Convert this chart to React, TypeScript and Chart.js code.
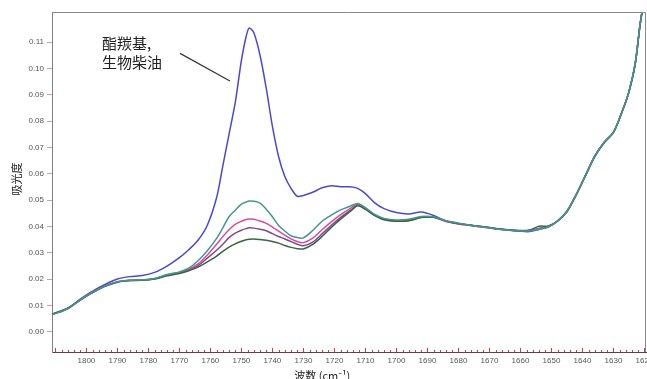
import React, { useEffect, useRef } from "react";
import { Chart, registerables } from "chart.js";
Chart.register(...registerables);

// Wavenumbers (cm^-1) shared by all spectra
const WAVENUMBERS = [1811, 1806, 1802, 1798, 1794, 1790, 1786, 1782, 1778, 1774, 1770, 1767, 1764, 1761, 1758, 1756, 1754, 1752, 1750, 1748.5, 1747.5, 1746, 1744, 1742, 1740, 1738, 1736, 1734, 1732, 1730, 1727, 1724, 1721, 1718, 1715, 1712.5, 1710, 1707, 1704, 1700, 1696, 1692, 1688, 1684, 1680, 1676, 1672, 1668, 1664, 1660, 1657, 1654, 1651, 1648, 1645, 1642, 1639, 1636, 1633, 1630, 1627, 1625, 1623, 1621.5, 1620.5];

// Absorbance series
const BLUE = [0.0066, 0.009, 0.0125, 0.0155, 0.018, 0.0201, 0.021, 0.0214, 0.0226, 0.025, 0.0282, 0.0312, 0.0348, 0.0405, 0.051, 0.063, 0.075, 0.087, 0.103, 0.112, 0.1153, 0.1135, 0.105, 0.0925, 0.078, 0.0665, 0.059, 0.0545, 0.0515, 0.0518, 0.053, 0.0547, 0.0555, 0.0551, 0.0551, 0.0545, 0.0525, 0.049, 0.0468, 0.0453, 0.0448, 0.0455, 0.0442, 0.0421, 0.041, 0.0405, 0.0399, 0.0393, 0.0387, 0.0382, 0.0381, 0.0389, 0.0398, 0.042, 0.0456, 0.052, 0.0593, 0.0665, 0.0718, 0.0757, 0.0842, 0.091, 0.1015, 0.1157, 0.1235];
const TEAL = [0.0066, 0.0088, 0.0122, 0.015, 0.0174, 0.019, 0.0196, 0.0198, 0.0203, 0.0218, 0.0228, 0.0242, 0.027, 0.0308, 0.0355, 0.0395, 0.0437, 0.0462, 0.0485, 0.0493, 0.0497, 0.0496, 0.0489, 0.0466, 0.0437, 0.0404, 0.0383, 0.0365, 0.0358, 0.0357, 0.0385, 0.042, 0.0443, 0.0463, 0.0477, 0.0487, 0.0472, 0.0446, 0.0431, 0.0425, 0.0428, 0.0438, 0.0437, 0.0422, 0.0413, 0.0405, 0.0398, 0.0392, 0.0387, 0.0384, 0.0384, 0.039, 0.0399, 0.0422, 0.0458, 0.0522, 0.0595, 0.0668, 0.072, 0.0758, 0.0843, 0.0912, 0.1018, 0.116, 0.1238];
const PINK = [0.0067, 0.0089, 0.0121, 0.0151, 0.0175, 0.0191, 0.0196, 0.0198, 0.0202, 0.0216, 0.0226, 0.0238, 0.0258, 0.0292, 0.0333, 0.0362, 0.0388, 0.0408, 0.042, 0.0427, 0.0429, 0.0428, 0.0421, 0.0412, 0.0398, 0.0383, 0.0367, 0.0353, 0.0343, 0.0339, 0.0356, 0.0388, 0.0418, 0.0445, 0.0468, 0.0485, 0.0469, 0.0444, 0.0429, 0.0421, 0.0424, 0.0436, 0.0435, 0.0419, 0.0411, 0.0404, 0.0397, 0.0391, 0.0386, 0.0384, 0.0385, 0.0392, 0.04, 0.0421, 0.0457, 0.0521, 0.0594, 0.0667, 0.0719, 0.0757, 0.0842, 0.0911, 0.1016, 0.1158, 0.1236];
const PURPLE = [0.0067, 0.0089, 0.0122, 0.015, 0.0175, 0.019, 0.0195, 0.0197, 0.0202, 0.0215, 0.0225, 0.0236, 0.0252, 0.028, 0.031, 0.0333, 0.0358, 0.0375, 0.0386, 0.0392, 0.0395, 0.0394, 0.039, 0.0384, 0.0373, 0.0362, 0.0353, 0.0343, 0.0333, 0.0327, 0.0341, 0.0372, 0.0405, 0.0435, 0.046, 0.0481, 0.0467, 0.0443, 0.0428, 0.0421, 0.0423, 0.0435, 0.0436, 0.042, 0.0411, 0.0404, 0.0398, 0.0392, 0.0387, 0.0384, 0.0385, 0.0393, 0.04, 0.0421, 0.0457, 0.0521, 0.0594, 0.0667, 0.0719, 0.0757, 0.0842, 0.0911, 0.1016, 0.1158, 0.1236];
const DARK_GREEN = [0.0068, 0.009, 0.0121, 0.0149, 0.0173, 0.0189, 0.0195, 0.0196, 0.0201, 0.0213, 0.0222, 0.0232, 0.0246, 0.0266, 0.0288, 0.0306, 0.0322, 0.0334, 0.0344, 0.035, 0.0352, 0.0353, 0.0351, 0.0348, 0.0343, 0.0337, 0.0328, 0.0321, 0.0316, 0.0315, 0.0332, 0.0362, 0.0397, 0.0428, 0.0456, 0.0479, 0.0465, 0.0442, 0.0426, 0.042, 0.0422, 0.0434, 0.0435, 0.0421, 0.0412, 0.0405, 0.0399, 0.0393, 0.0388, 0.0385, 0.0387, 0.0401, 0.0402, 0.0422, 0.0458, 0.0522, 0.0595, 0.0668, 0.072, 0.0758, 0.0843, 0.0912, 0.1017, 0.1159, 0.1237];

// Axis ticks
const X_LABEL_TICKS = [1800, 1790, 1780, 1770, 1760, 1750, 1740, 1730, 1720, 1710, 1700, 1690, 1680, 1670, 1660, 1650, 1640, 1630, 1620];
const Y_TICKS = [0, 0.01, 0.02, 0.03, 0.04, 0.05, 0.06, 0.07, 0.08, 0.09, 0.1, 0.11];
const X_RANGE = [1619.5, 1811.1];
const Y_RANGE = [-0.0076, 0.1214];

// Texts
const Y_TITLE = "吸光度";
const X_TITLE = "波数 (cm⁻¹)";
const ANNOTATION_LINES = ["酯羰基,", "生物柴油"];
const ANNOTATION_TEXT_POS = [1795.0, 0.1097, 0.1022]; // wavenumber, line1 value, line2 value
const ANNOTATION_LEADER = [[1769.8, 0.1057], [1753.7, 0.0952]];

const CJK = '"Noto Sans CJK SC", "Noto Sans", sans-serif';
const SANS = '"Liberation Sans", Arial, sans-serif';

const decorPlugin = {
  id: "decor",
  afterDraw(chart: any) {
    const { ctx, chartArea: a, scales } = chart;
    const xs = scales.x;
    const ys = scales.y;
    ctx.save();
    // frame top & right
    ctx.strokeStyle = "#8a8a8a";
    ctx.lineWidth = 1;
    ctx.beginPath();
    ctx.moveTo(a.left, a.top + 0.5);
    ctx.lineTo(a.right - 0.5, a.top + 0.5);
    ctx.lineTo(a.right - 0.5, a.bottom);
    ctx.stroke();
    // x ticks (inside, pointing up)
    ctx.strokeStyle = "#d23c3c";
    ctx.lineWidth = 1;
    for (let v = 1810; v >= 1620; v -= 2) {
      const px = Math.round(xs.getPixelForValue(v)) + 0.5;
      if (px < a.left || px > a.right) continue;
      const len = v % 10 === 0 ? 4 : 2;
      ctx.beginPath();
      ctx.moveTo(px, a.bottom);
      ctx.lineTo(px, a.bottom - len);
      ctx.stroke();
    }
    // annotation
    ctx.fillStyle = "#222";
    ctx.font = `15px ${CJK}`;
    ctx.textAlign = "left";
    ctx.textBaseline = "middle";
    const tx = xs.getPixelForValue(ANNOTATION_TEXT_POS[0]);
    ctx.fillText(ANNOTATION_LINES[0], tx, ys.getPixelForValue(ANNOTATION_TEXT_POS[1]));
    ctx.fillText(ANNOTATION_LINES[1], tx, ys.getPixelForValue(ANNOTATION_TEXT_POS[2]));
    ctx.strokeStyle = "#3a3a3a";
    ctx.lineWidth = 1.3;
    ctx.beginPath();
    ctx.moveTo(xs.getPixelForValue(ANNOTATION_LEADER[0][0]), ys.getPixelForValue(ANNOTATION_LEADER[0][1]));
    ctx.lineTo(xs.getPixelForValue(ANNOTATION_LEADER[1][0]), ys.getPixelForValue(ANNOTATION_LEADER[1][1]));
    ctx.stroke();
    // axis titles
    ctx.fillStyle = "#222";
    ctx.font = `11px ${CJK}`;
    ctx.textAlign = "center";
    ctx.textBaseline = "top";
    ctx.fillText(X_TITLE, a.left + (a.right - a.left) * 0.455, 370);
    ctx.save();
    ctx.translate(17, (a.top + a.bottom) / 2 - 3);
    ctx.rotate(-Math.PI / 2);
    ctx.textBaseline = "middle";
    ctx.fillText(Y_TITLE, 0, 0);
    ctx.restore();
    ctx.restore();
  },
};

function makeSeries(values: number[]) {
  return WAVENUMBERS.map((w, i) => ({ x: w, y: values[i] }));
}

export default function App() {
  const ref = useRef<HTMLCanvasElement | null>(null);
  useEffect(() => {
    if (!ref.current) return;
    const ds = (label: string, values: number[], color: string) => ({
      label,
      data: makeSeries(values),
      borderColor: color,
      backgroundColor: color,
      borderWidth: 1.5,
      pointRadius: 0,
      tension: 0.3,
      fill: false,
    });
    const chart = new Chart(ref.current, {
      type: "line",
      data: {
        datasets: [
          ds("teal", TEAL, "#3f9a8c"),
          ds("dark green", DARK_GREEN, "#3b6443"),
          ds("pink", PINK, "#d84c9c"),
          ds("purple", PURPLE, "#84468f"),
          ds("blue", BLUE, "#4a48d4"),
        ],
      },
      options: {
        animation: false,
        responsive: false,
        maintainAspectRatio: false,
        layout: { padding: { left: 0, right: 1, top: 12, bottom: 0 } },
        plugins: { legend: { display: false }, tooltip: { enabled: false }, title: { display: false } },
        scales: {
          x: {
            type: "linear",
            reverse: true,
            min: X_RANGE[0],
            max: X_RANGE[1],
            afterBuildTicks: (s: any) => {
              s.ticks = X_LABEL_TICKS.map((value) => ({ value }));
            },
            afterFit: (s: any) => {
              s.height = 27;
              s.paddingLeft = 0;
              s.paddingRight = 0;
              s.paddingTop = 0;
              s.paddingBottom = 0;
            },
            grid: { display: true, drawOnChartArea: false, drawTicks: false },
            border: { display: true, color: "#6e3c3c", width: 1 },
            ticks: {
              autoSkip: false,
              maxRotation: 0,
              padding: 4,
              color: "#555",
              font: { family: SANS, size: 8 },
              callback: (v: any) => String(v),
            },
          },
          y: {
            type: "linear",
            min: Y_RANGE[0],
            max: Y_RANGE[1],
            afterBuildTicks: (s: any) => {
              s.ticks = Y_TICKS.map((value) => ({ value }));
            },
            afterFit: (s: any) => {
              s.width = 52;
              s.paddingTop = 0;
              s.paddingBottom = 0;
              s.paddingLeft = 0;
              s.paddingRight = 0;
            },
            grid: { display: true, drawOnChartArea: false, drawTicks: true, tickLength: 5, tickColor: "#e39a9a" },
            border: { display: true, color: "#808080", width: 1 },
            ticks: {
              padding: 3,
              color: "#555",
              font: { family: SANS, size: 8 },
              callback: (v: any) => Number(v).toFixed(2),
            },
          },
        },
      },
      plugins: [decorPlugin],
    });
    return () => chart.destroy();
  }, []);
  return (
    <div style={{ position: "fixed", left: 0, top: 0, width: 647, height: 379, overflow: "hidden", background: "#fff" }}>
      <canvas ref={ref} width={647} height={379} style={{ display: "block", width: 647, height: 379 }} />
    </div>
  );
}
